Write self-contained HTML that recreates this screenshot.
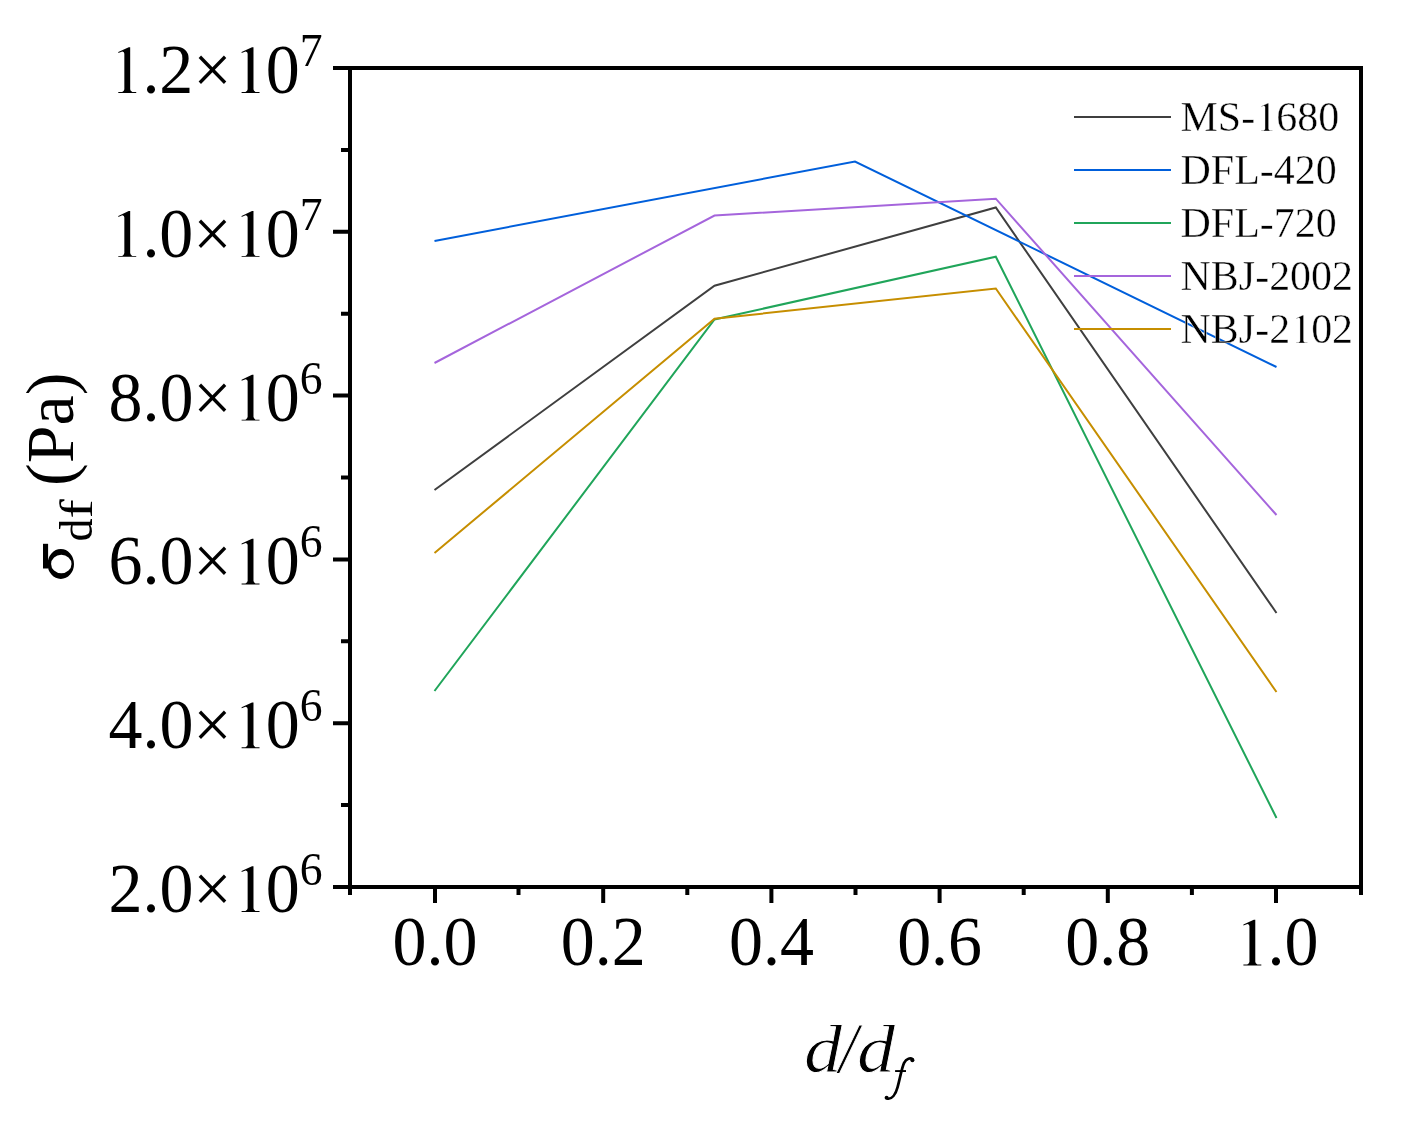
<!DOCTYPE html>
<html><head><meta charset="utf-8"><style>
html,body{margin:0;padding:0;background:#fff;width:1402px;height:1135px;overflow:hidden}
svg{display:block;will-change:transform}
text{font-family:"Liberation Serif",serif;fill:#000}
</style></head><body>
<svg width="1402" height="1135" viewBox="0 0 1402 1135">
<rect x="0" y="0" width="1402" height="1135" fill="#fff"/>
<g fill="none" stroke-width="2.0" stroke-linejoin="miter">
<polyline stroke="#3f3f3f" points="434.5,490 714.5,285.7 995.8,207.5 1276.5,613"/>
<polyline stroke="#005fdb" points="434.5,241 855,161.5 1276.5,367"/>
<polyline stroke="#20a55a" points="434.5,691 714.5,319.5 995.8,256.7 1276.5,818"/>
<polyline stroke="#a565dc" points="434.5,363 714.5,215.5 995.8,198.7 1276.5,515"/>
<polyline stroke="#c68e00" points="434.5,553 714.5,318.7 995.8,288.5 1276.5,692"/>
</g>
<g stroke-width="2.0" fill="none">
<line x1="1074" y1="117" x2="1171" y2="117" stroke="#3f3f3f"/>
<line x1="1074" y1="170" x2="1171" y2="170" stroke="#005fdb"/>
<line x1="1074" y1="223" x2="1171" y2="223" stroke="#20a55a"/>
<line x1="1074" y1="276" x2="1171" y2="276" stroke="#a565dc"/>
<line x1="1074" y1="329" x2="1171" y2="329" stroke="#c68e00"/>
</g>
<g font-size="42.5" transform="translate(1180.5,0) scale(0.988,1) translate(-1180.5,0)">
<text class="leg" x="1180.5" y="131" stroke="#fff" stroke-width="0.4">MS-<tspan class="o1" fill="transparent">1</tspan>680</text>
<text class="leg" x="1180.5" y="184" stroke="#fff" stroke-width="0.4">DFL-420</text>
<text class="leg" x="1180.5" y="237" stroke="#fff" stroke-width="0.4">DFL-720</text>
<text class="leg" x="1180.5" y="290" stroke="#fff" stroke-width="0.4">NBJ-2002</text>
<text class="leg" x="1180.5" y="343" stroke="#fff" stroke-width="0.4">NBJ-2<tspan class="o1" fill="transparent">1</tspan>02</text>
</g>
<rect x="350" y="68" width="1011" height="819" stroke="#000" stroke-width="4" fill="none"/>
<path d="M333 887.00H350M333 723.20H350M333 559.40H350M333 395.60H350M333 231.80H350M333 68.00H350M341 805.10H350M341 641.30H350M341 477.50H350M341 313.70H350M341 149.90H350M435.00 887V903M603.20 887V903M771.40 887V903M939.60 887V903M1107.80 887V903M1276.00 887V903M350.00 887V895M518.50 887V895M687.30 887V895M855.50 887V895M1023.70 887V895M1191.90 887V895M1361.00 887V895" stroke="#000" stroke-width="4" fill="none"/>
<g font-size="70" text-anchor="end" transform="translate(322.5,0) scale(0.971,1) translate(-322.5,0)">
<text class="yl" x="322.5" y="93.00"><tspan class="o1" fill="transparent">1</tspan>.2×<tspan class="o1" fill="transparent">1</tspan>0<tspan font-size="47" dy="-27">7</tspan></text>
<text class="yl" x="322.5" y="256.80"><tspan class="o1" fill="transparent">1</tspan>.0×<tspan class="o1" fill="transparent">1</tspan>0<tspan font-size="47" dy="-27">7</tspan></text>
<text class="yl" x="322.5" y="420.60">8.0×<tspan class="o1" fill="transparent">1</tspan>0<tspan font-size="47" dy="-27">6</tspan></text>
<text class="yl" x="322.5" y="584.40">6.0×<tspan class="o1" fill="transparent">1</tspan>0<tspan font-size="47" dy="-27">6</tspan></text>
<text class="yl" x="322.5" y="748.20">4.0×<tspan class="o1" fill="transparent">1</tspan>0<tspan font-size="47" dy="-27">6</tspan></text>
<text class="yl" x="322.5" y="912.00">2.0×<tspan class="o1" fill="transparent">1</tspan>0<tspan font-size="47" dy="-27">6</tspan></text>
</g>
<g transform="translate(435.00,0) scale(0.971,1)"><text class="xl" x="0" y="965.5" font-size="70" text-anchor="middle">0.0</text></g>
<g transform="translate(603.20,0) scale(0.971,1)"><text class="xl" x="0" y="965.5" font-size="70" text-anchor="middle">0.2</text></g>
<g transform="translate(771.40,0) scale(0.971,1)"><text class="xl" x="0" y="965.5" font-size="70" text-anchor="middle">0.4</text></g>
<g transform="translate(939.60,0) scale(0.971,1)"><text class="xl" x="0" y="965.5" font-size="70" text-anchor="middle">0.6</text></g>
<g transform="translate(1107.80,0) scale(0.971,1)"><text class="xl" x="0" y="965.5" font-size="70" text-anchor="middle">0.8</text></g>
<g transform="translate(1276.00,0) scale(0.971,1)"><text class="xl" x="0" y="965.5" font-size="70" text-anchor="middle"><tspan class="o1" fill="transparent">1</tspan>.0</text></g>
<g font-style="italic" font-size="68" stroke="#fff" stroke-width="0.8"><text transform="translate(804.0,1072) scale(1.12,1)">d</text><text transform="translate(838.97,1072) scale(0.985,1.055)">/</text><text transform="translate(857.0,1072) scale(1.12,1)">d</text></g>
<g fill="none" stroke="#000" stroke-linecap="round"><path d="M912.8,1059.4 C910.5,1057.6 906.4,1058.2 904.1,1062.8 C901.8,1067.5 900.2,1077.5 897.6,1087.2 C895.6,1094.6 891.8,1099.4 887.6,1098.7" stroke-width="2.7"/></g><g fill="#000"><circle cx="912.4" cy="1060.2" r="2.0"/><circle cx="886.6" cy="1097.7" r="2.0"/><rect x="895.1" y="1070.1" width="10.9" height="1.9"/></g>
<g transform="translate(73.3,579) rotate(-90)">
<path fill="#000" fill-rule="evenodd" d="M0,-12.5 A15,13.2 0 1,0 30,-12.5 A15,13.2 0 1,0 0,-12.5 Z M5.7,-12 A9.3,10.2 0 1,0 24.3,-12 A9.3,10.2 0 1,0 5.7,-12 Z"/>
<path fill="#000" d="M10.5,-30.3 H35.2 V-25.2 H10.5 Z"/>
<text x="37.6" y="18.9" font-size="46">d</text>
<text transform="translate(60.6,18.9) scale(1.25,1)" x="0" y="0" font-size="46">f</text>
<text x="93" y="0" font-size="68">(Pa)</text>
</g>
<g fill="#000">
<path transform="translate(1255.15,131.00) scale(0.02050,-0.02075)" d="M298,0 H838 V26 H721 Q656,60 656,110 V1338 H612 L298,1197 V1167 L420,1212 Q480,1200 480,1150 V110 Q480,60 415,26 H298 Z" stroke="#fff" stroke-width="19.5"/>
<path transform="translate(1290.13,343.00) scale(0.02050,-0.02075)" d="M298,0 H838 V26 H721 Q656,60 656,110 V1338 H612 L298,1197 V1167 L420,1212 Q480,1200 480,1150 V110 Q480,60 415,26 H298 Z" stroke="#fff" stroke-width="19.5"/>
<path transform="translate(108.41,93.00) scale(0.03319,-0.03418)" d="M298,0 H838 V26 H721 Q656,60 656,110 V1338 H612 L298,1197 V1167 L420,1212 Q480,1200 480,1150 V110 Q480,60 415,26 H298 Z"/>
<path transform="translate(231.71,93.00) scale(0.03319,-0.03418)" d="M298,0 H838 V26 H721 Q656,60 656,110 V1338 H612 L298,1197 V1167 L420,1212 Q480,1200 480,1150 V110 Q480,60 415,26 H298 Z"/>
<path transform="translate(108.41,256.80) scale(0.03319,-0.03418)" d="M298,0 H838 V26 H721 Q656,60 656,110 V1338 H612 L298,1197 V1167 L420,1212 Q480,1200 480,1150 V110 Q480,60 415,26 H298 Z"/>
<path transform="translate(231.71,256.80) scale(0.03319,-0.03418)" d="M298,0 H838 V26 H721 Q656,60 656,110 V1338 H612 L298,1197 V1167 L420,1212 Q480,1200 480,1150 V110 Q480,60 415,26 H298 Z"/>
<path transform="translate(231.71,420.60) scale(0.03319,-0.03418)" d="M298,0 H838 V26 H721 Q656,60 656,110 V1338 H612 L298,1197 V1167 L420,1212 Q480,1200 480,1150 V110 Q480,60 415,26 H298 Z"/>
<path transform="translate(231.71,584.40) scale(0.03319,-0.03418)" d="M298,0 H838 V26 H721 Q656,60 656,110 V1338 H612 L298,1197 V1167 L420,1212 Q480,1200 480,1150 V110 Q480,60 415,26 H298 Z"/>
<path transform="translate(231.71,748.20) scale(0.03319,-0.03418)" d="M298,0 H838 V26 H721 Q656,60 656,110 V1338 H612 L298,1197 V1167 L420,1212 Q480,1200 480,1150 V110 Q480,60 415,26 H298 Z"/>
<path transform="translate(231.71,912.00) scale(0.03319,-0.03418)" d="M298,0 H838 V26 H721 Q656,60 656,110 V1338 H612 L298,1197 V1167 L420,1212 Q480,1200 480,1150 V110 Q480,60 415,26 H298 Z"/>
<path transform="translate(1233.51,965.50) scale(0.03319,-0.03418)" d="M298,0 H838 V26 H721 Q656,60 656,110 V1338 H612 L298,1197 V1167 L420,1212 Q480,1200 480,1150 V110 Q480,60 415,26 H298 Z"/>
</g>
</svg>
</body></html>
